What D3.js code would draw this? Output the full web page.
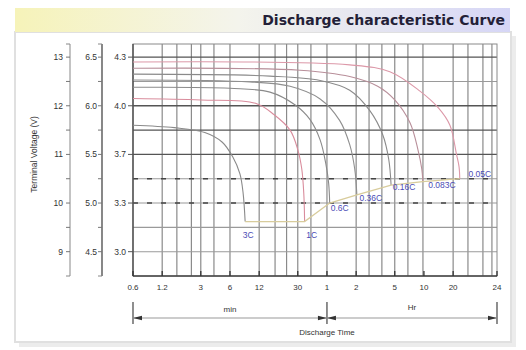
<!DOCTYPE html>
<html>
<head>
<meta charset="utf-8">
<script src="https://cdn.jsdelivr.net/npm/d3@7"></script>
<style>
  body { margin: 0; background: #fff; }
  svg { display: block; font-family: "Liberation Sans", Arial, sans-serif; }
</style>
</head>
<body>
<div id="chart"></div>
<script>
// discharge curves: [minutes, volts on the 12V scale]
const rateLabels = ['3C', '1C', '0.6C', '0.36C', '0.16C', '0.083C', '0.05C'];
const curve3C = [[0.6, 11.6], [1.6, 11.55], [3.3, 11.45], [5, 11.25], [6.4, 10.95], [7.6, 10.6], [8.2, 10.2], [8.6, 9.62]];
const curve1C = [[0.6, 12.15], [3, 12.12], [11, 12.05], [17, 11.82], [25, 11.5], [30, 11.1], [33, 10.7], [34.6, 10.2], [35.3, 9.62]];
const curve06C = [[0.6, 12.38], [6, 12.36], [15.5, 12.28], [28, 12.02], [40, 11.72], [51, 11.3], [58.5, 10.8], [62.5, 10.4], [64, 10.0]];
const curve036C = [[0.6, 12.53], [9.6, 12.49], [25, 12.4], [51, 12.14], [81, 11.7], [103, 11.2], [116, 10.7], [122, 10.17]];
const curve016C = [[0.6, 12.65], [15.5, 12.61], [51, 12.52], [103, 12.32], [166, 11.9], [226, 11.4], [260, 10.9], [275, 10.37]];
const curve0083C = [[0.6, 12.77], [31.6, 12.73], [103, 12.6], [200, 12.4], [300, 12.12], [431, 11.65], [520, 11.1], [570, 10.7], [585, 10.44]];
const curve005C = [[0.6, 12.9], [103, 12.84], [267, 12.7], [546, 12.3], [850, 11.95], [1112, 11.6], [1300, 11.0], [1380, 10.75], [1405, 10.5]];
const curves = [curve3C, curve1C, curve06C, curve036C, curve016C, curve0083C, curve005C];

// axis labels
const volt12Ticks = [13, 12, 11, 10, 9];
const volt6Labels = ['6.5', '6.0', '5.5', '5.0', '4.5'];
const cellLabels = ['4.3', '4.0', '3.7', '3.3', '3.0'];
const timeTicks = [0.6, 1.2, 3, 6, 12, 30, 60, 120, 300, 600, 1200, 3400];
const timeTickLabels = ['0.6', '1.2', '3', '6', '12', '30', '1', '2', '5', '10', '20', '24'];
const gridTimes = [1.2, 1.7, 2.4, 3, 4.1, 6, 12, 17.5, 23, 30, 41, 60, 120, 163, 221, 300, 410, 586, 1200, 1706, 2434, 3014];
const gridVolts = [13, 12.5, 12, 11.5, 11, 10.5, 10, 9.5, 9];

const width = 526, height = 350;
const plotLeft = 133, plotRight = 497, plotTop = 44, plotBottom = 276;

const svg = d3.select('#chart').append('svg')
  .attr('width', width)
  .attr('height', height);

const defs = svg.append('defs');
const grad = defs.append('linearGradient').attr('id', 'titleGrad');
grad.append('stop').attr('offset', '0%').attr('stop-color', '#f6f3b9');
grad.append('stop').attr('offset', '45%').attr('stop-color', '#f4f4ec');
grad.append('stop').attr('offset', '100%').attr('stop-color', '#d6d6f6');

// panel + shadow
svg.append('rect').attr('x', 19).attr('y', 36).attr('width', 497).attr('height', 311).attr('fill', '#ececec');
svg.append('rect').attr('x', 15).attr('y', 32).attr('width', 496).attr('height', 310)
  .attr('fill', '#fff').attr('stroke', '#e0e0e0').attr('stroke-width', 2);

// title bar
svg.append('rect').attr('x', 15).attr('y', 8).attr('width', 495).attr('height', 24).attr('fill', 'url(#titleGrad)');
svg.append('text')
  .attr('x', 505).attr('y', 25)
  .attr('text-anchor', 'end')
  .attr('font-family', '"DejaVu Sans", sans-serif')
  .attr('font-weight', 'bold')
  .attr('font-size', '14px')
  .attr('fill', '#241f38')
  .text('Discharge characteristic Curve');

const x = d3.scaleLog().domain([0.6, 3400]).range([plotLeft, plotRight]);
const y = d3.scaleLinear().domain([8.5, 13.27]).range([plotBottom, plotTop]);

// vertical grid
svg.append('g').selectAll('line')
  .data(gridTimes)
  .join('line')
  .attr('x1', d => x(d)).attr('x2', d => x(d))
  .attr('y1', plotTop).attr('y2', plotBottom)
  .attr('stroke', '#8a8a8a')
  .attr('stroke-width', 1.2);

// horizontal grid
const darkH = [13, 12, 11.5, 11];
const dashedH = [10.5, 10];
svg.append('g').selectAll('line')
  .data(gridVolts)
  .join('line')
  .attr('x1', plotLeft).attr('x2', plotRight)
  .attr('y1', d => y(d)).attr('y2', d => y(d))
  .attr('stroke', d => darkH.includes(d) ? '#555' : '#9a9a9a')
  .attr('stroke-width', d => darkH.includes(d) ? 1.4 : 1.1);

svg.append('g').selectAll('line')
  .data(dashedH)
  .join('line')
  .attr('x1', plotLeft).attr('x2', plotRight)
  .attr('y1', d => y(d)).attr('y2', d => y(d))
  .attr('stroke', '#444')
  .attr('stroke-width', 1.6)
  .attr('stroke-dasharray', '5,9');

// frame
svg.append('rect')
  .attr('x', plotLeft).attr('y', plotTop)
  .attr('width', plotRight - plotLeft).attr('height', plotBottom - plotTop)
  .attr('fill', 'none').attr('stroke', '#8a8a8a').attr('stroke-width', 1);
svg.append('line').attr('x1', plotLeft).attr('x2', plotLeft).attr('y1', plotTop).attr('y2', plotBottom)
  .attr('stroke', '#444').attr('stroke-width', 1.3);
svg.append('line').attr('x1', plotLeft).attr('x2', plotRight).attr('y1', plotBottom).attr('y2', plotBottom)
  .attr('stroke', '#444').attr('stroke-width', 1.3);

// curves
const curveColors = ['#8a8a8a', '#d98c9c', '#8a8a8a', '#8f8f8f', '#8a8a8a', '#b88f9a', '#dc98a8'];
const line = d3.line()
  .x(d => x(d[0]))
  .y(d => y(d[1]))
  .curve(d3.curveCatmullRom.alpha(0.5));

svg.append('g').selectAll('path')
  .data(curves)
  .join('path')
  .attr('d', line)
  .attr('fill', 'none')
  .attr('stroke', (d, i) => curveColors[i])
  .attr('stroke-width', 1.1);

// end voltage locus
const ends = curves.map(c => c[c.length - 1]);
svg.append('path')
  .datum(ends)
  .attr('d', d3.line().x(d => x(d[0])).y(d => y(d[1])))
  .attr('fill', 'none')
  .attr('stroke', '#d8cc9c')
  .attr('stroke-width', 1.3);

// rate labels
const labelDx = [3, 7, 10, 14, 13, 19, 20];
const labelDy = [16, 16, 8, 6, 5, 6, -2];
svg.append('g').selectAll('text')
  .data(ends)
  .join('text')
  .attr('x', (d, i) => x(d[0]) + labelDx[i])
  .attr('y', (d, i) => y(d[1]) + labelDy[i])
  .attr('text-anchor', 'middle')
  .attr('font-size', '8.5px')
  .attr('fill', '#4b4bb5')
  .text((d, i) => rateLabels[i]);

// x tick marks + labels
svg.append('g').selectAll('line')
  .data(timeTicks)
  .join('line')
  .attr('x1', d => x(d)).attr('x2', d => x(d))
  .attr('y1', plotBottom).attr('y2', plotBottom - 5)
  .attr('stroke', '#333').attr('stroke-width', 1.3);
svg.append('g').selectAll('text')
  .data(timeTicks)
  .join('text')
  .attr('x', d => x(d))
  .attr('y', 290)
  .attr('text-anchor', 'middle')
  .attr('font-size', '8px')
  .attr('fill', '#333')
  .text((d, i) => timeTickLabels[i]);

// left voltage axes
const halfSteps = d3.range(9, 13.01, 0.5);
const axis12X = 70, axis6X = 102;
[axis12X, axis6X].forEach(ax => {
  svg.append('line').attr('x1', ax).attr('x2', ax).attr('y1', plotTop).attr('y2', plotBottom)
    .attr('stroke', ax === axis6X ? '#555' : '#888').attr('stroke-width', ax === axis6X ? 1.4 : 1);
  svg.append('line').attr('x1', ax - 4).attr('x2', ax).attr('y1', plotTop).attr('y2', plotTop).attr('stroke', '#888');
  svg.append('line').attr('x1', ax - 4).attr('x2', ax).attr('y1', plotBottom).attr('y2', plotBottom).attr('stroke', '#888');
  svg.append('g').selectAll('line')
    .data(halfSteps)
    .join('line')
    .attr('x1', ax - 4).attr('x2', ax)
    .attr('y1', d => y(d)).attr('y2', d => y(d))
    .attr('stroke', '#777');
});

svg.append('g').selectAll('text')
  .data(volt12Ticks)
  .join('text')
  .attr('x', 63).attr('y', d => y(d))
  .attr('dy', '0.35em')
  .attr('text-anchor', 'end')
  .attr('font-size', '8.5px')
  .attr('fill', '#333')
  .text(d => d);

svg.append('g').selectAll('text')
  .data(volt12Ticks)
  .join('text')
  .attr('x', 97).attr('y', d => y(d))
  .attr('dy', '0.35em')
  .attr('text-anchor', 'end')
  .attr('font-size', '8.5px')
  .attr('fill', '#333')
  .text((d, i) => volt6Labels[i]);

svg.append('g').selectAll('text')
  .data(volt12Ticks)
  .join('text')
  .attr('x', 126).attr('y', d => y(d))
  .attr('dy', '0.35em')
  .attr('text-anchor', 'end')
  .attr('font-size', '8.5px')
  .attr('fill', '#333')
  .text((d, i) => cellLabels[i]);

svg.append('g').selectAll('line')
  .data(volt12Ticks)
  .join('line')
  .attr('x1', plotLeft - 5).attr('x2', plotLeft)
  .attr('y1', d => y(d)).attr('y2', d => y(d))
  .attr('stroke', '#555');

svg.append('text')
  .attr('transform', `translate(37, ${y(11)}) rotate(-90)`)
  .attr('text-anchor', 'middle')
  .attr('font-size', '8.5px')
  .attr('fill', '#333')
  .text('Terminal Voltage  (V)');

// discharge time brackets
const brY = 318;
const xMid = x(60), xEnd = x(3400), xStart = x(0.6);
[xStart, xMid, xEnd].forEach(bx => {
  svg.append('line').attr('x1', bx).attr('x2', bx).attr('y1', 302).attr('y2', 324)
    .attr('stroke', '#444').attr('stroke-width', 1.2);
});
svg.append('line').attr('x1', xStart).attr('x2', xEnd).attr('y1', brY).attr('y2', brY)
  .attr('stroke', '#999').attr('stroke-width', 1);
const arrow = (tipX, dir) => {
  svg.append('path')
    .attr('d', `M${tipX},${brY} l${-dir * 9},-2.2 l0,4.4 z`)
    .attr('fill', '#333');
};
arrow(xStart, -1);
arrow(xMid, 1);
arrow(xMid, -1);
arrow(xEnd, 1);

svg.append('text').attr('x', (xStart + xMid) / 2).attr('y', 312)
  .attr('text-anchor', 'middle').attr('font-size', '8px').attr('fill', '#333').text('min');
svg.append('text').attr('x', (xMid + xEnd) / 2).attr('y', 310)
  .attr('text-anchor', 'middle').attr('font-size', '8px').attr('fill', '#333').text('Hr');
svg.append('text').attr('x', xMid).attr('y', 335)
  .attr('text-anchor', 'middle').attr('font-size', '8px').attr('fill', '#333').text('Discharge Time');
</script>
</body>
</html>
